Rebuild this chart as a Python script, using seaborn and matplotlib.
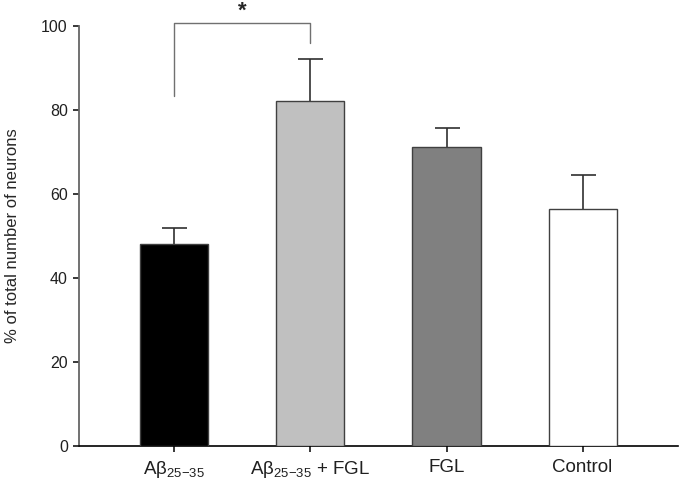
import matplotlib
matplotlib.use("Agg")
import matplotlib.pyplot as plt
import numpy as np
import pandas as pd
import seaborn as sns

# values
groups = ["A\u03b2$_{\\mathregular{25{-}35}}$",
          "A\u03b2$_{\\mathregular{25{-}35}}$ + FGL",
          "FGL", "Control"]
means = [48.0, 82.2, 71.3, 56.4]
errors = [4.0, 10.0, 4.3, 8.1]
bar_colors = ["#000000", "#c0c0c0", "#808080", "#ffffff"]
y_ticks = [0, 20, 40, 60, 80, 100]


def main():
    sns.set_theme(style="ticks", rc={
        "axes.spines.right": False,
        "axes.spines.top": False,
        "xtick.major.size": 4.5,
        "ytick.major.size": 4.5,
        "xtick.color": "#202020",
        "ytick.color": "#202020",
    })
    plt.rcParams["font.family"] = ["Liberation Sans", "DejaVu Sans"]
    plt.rcParams["mathtext.fontset"] = "custom"
    plt.rcParams["mathtext.rm"] = "Liberation Sans"

    df = pd.DataFrame({"Group": groups, "Percent": means})

    fig = plt.figure(figsize=(6.82, 4.84), dpi=100)
    ax = fig.add_axes([0.1158, 0.0785, 0.8782, 0.8678])

    sns.barplot(data=df, x="Group", y="Percent", hue="Group",
                palette=bar_colors, width=0.5, edgecolor="#404040",
                linewidth=1.0, errorbar=None, legend=False, ax=ax,
                zorder=3)
    _, caps, _ = ax.errorbar(range(len(means)), means,
                             yerr=[[0] * len(errors), errors],
                             fmt="none", ecolor="#303030", elinewidth=1.2,
                             capsize=9, capthick=1.2, zorder=2)
    # only the upper whisker is drawn in the reference
    for cap in caps:
        if np.allclose(cap.get_ydata(), means):
            cap.set_visible(False)

    # significance bracket between the first two groups
    ax.plot([0, 0, 1, 1], [83.3, 100.6, 100.6, 96.0], color="#707070",
            lw=1.0, clip_on=False)
    ax.text(0.5, 103.4, "*", ha="center", va="center", fontsize=16,
            fontweight="bold")

    ax.set_xlim(-0.70, 3.70)
    ax.set_ylim(0, 100)
    ax.set_yticks(y_ticks)
    ax.tick_params(axis="y", labelsize=11.5)
    ax.tick_params(axis="x", labelsize=13.5, pad=5)
    ax.spines["left"].set_color("#666666")
    ax.spines["left"].set_linewidth(1.3)
    ax.spines["bottom"].set_color("#000000")
    ax.spines["bottom"].set_linewidth(1.2)
    ax.set_xlabel("")
    ax.set_ylabel("% of total number of neurons", fontsize=12)
    ax.yaxis.set_label_coords(-0.098, 0.5)

    fig.savefig("out.png", dpi=100)


if __name__ == "__main__":
    main()
